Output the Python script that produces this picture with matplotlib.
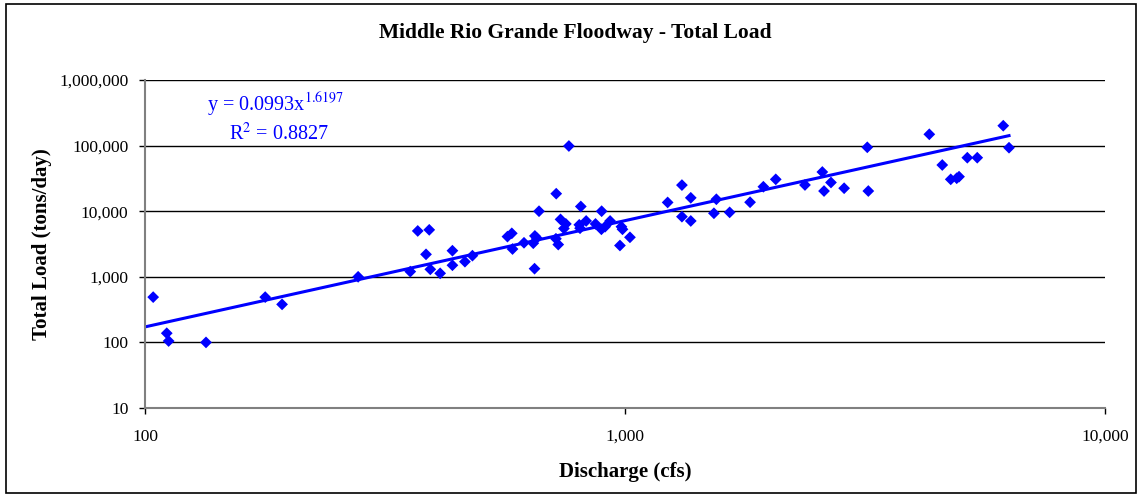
import matplotlib.pyplot as plt
from matplotlib.patches import Rectangle
from matplotlib.ticker import FixedLocator, FuncFormatter, NullLocator
import numpy as np

plt.rcParams['font.family'] = ['Liberation Serif', 'DejaVu Serif']
plt.rcParams['mathtext.fontset'] = 'stix'

# discharge (cfs) and total load (tons/day)
discharge = [104, 111, 112, 134, 178, 193, 278, 357, 370, 391, 385, 393, 412, 437, 437, 464, 481,
             569, 581, 583, 616, 649, 655, 644, 648, 662, 719, 718, 726, 734, 753, 746, 764, 809,
             803, 806, 830, 868, 894, 893, 909, 931, 983, 988, 1024, 976,
             1227, 1314, 1371, 1314, 1371, 1550, 1532, 1652, 1822, 1942, 2061, 2371, 2577, 2598,
             2686, 2861, 3213, 3197, 4305, 4581, 4771, 4910, 4965, 5166, 5418, 6138, 6310]
load = [490, 138, 105, 100, 490, 380, 1000, 1200, 5000, 5200, 2200, 1300, 1130, 2500, 1500, 1700, 2100,
        4100, 4600, 2650, 3300, 4200, 3900, 3250, 1330, 10000, 18500, 3800, 3100, 7500, 6400, 5450, 98600, 11800,
        6200, 5500, 7100, 6400, 10000, 5300, 5800, 7100, 5800, 5300, 4000, 3000,
        13600, 25000, 16000, 8250, 7100, 15200, 9300, 9600, 13700, 23600, 30600, 25100, 39600, 20300,
        27400, 22400, 20300, 94200, 148700, 50600, 30600, 31800, 33600, 65400, 65400, 201000, 92900]

# power trendline from the chart
coef_a = 0.0993
coef_b = 1.6197
r_squared = 0.8827

y_ticks = [10, 100, 1000, 10000, 100000, 1000000]
x_ticks = [100, 1000, 10000]

fig = plt.figure(figsize=(11.41, 4.97), dpi=100)
ax = fig.add_axes([145 / 1141, 1 - 408 / 497, 960 / 1141, 328 / 497])

ax.scatter(discharge, load, marker='D', s=36, color='#0000FF', edgecolors='none', zorder=3)

xs = np.logspace(np.log10(100), np.log10(max(discharge)), 200)
ax.plot(xs, coef_a * xs ** coef_b, color='#0000FF', linewidth=2.2, zorder=2)

ax.set_xscale('log')
ax.set_yscale('log')
ax.set_xlim(100, 10000)
ax.set_ylim(10, 1000000)

fmt = FuncFormatter(lambda v, p: f'{int(round(v)):,}')
ax.xaxis.set_major_locator(FixedLocator(x_ticks))
ax.yaxis.set_major_locator(FixedLocator(y_ticks))
ax.xaxis.set_minor_locator(NullLocator())
ax.yaxis.set_minor_locator(NullLocator())
ax.xaxis.set_major_formatter(fmt)
ax.yaxis.set_major_formatter(fmt)
ax.tick_params(axis='both', direction='out', length=4, width=1, color='black', labelsize=12.5)
ax.tick_params(axis='x', pad=11)
ax.tick_params(axis='y', pad=8)

ax.grid(axis='y', color='black', linewidth=1)
ax.set_axisbelow(True)
for side in ['top', 'right']:
    ax.spines[side].set_visible(False)
for side in ['left', 'bottom']:
    ax.spines[side].set_color('#808080')
    ax.spines[side].set_linewidth(1.5)

ax.set_xlabel('Discharge (cfs)', fontsize=15, fontweight='bold', labelpad=12)
ax.set_ylabel('Total Load (tons/day)', fontsize=15, fontweight='bold', labelpad=5)

fig.text(0.504, 1 - 33 / 497, 'Middle Rio Grande Floodway - Total Load', ha='center', va='center',
         fontsize=15.5, fontweight='bold')

ax.text(0.065, 0.925, r'y = 0.0993x$^{1.6197}$', transform=ax.transAxes, color='#0000FF',
        fontsize=14.5, ha='left', va='center')
ax.text(0.087, 0.835, r'R$^{2}$ = ' + f'{r_squared:.4f}', transform=ax.transAxes, color='#0000FF',
        fontsize=14.5, ha='left', va='center')

fig.patches.append(Rectangle((6 / 1141, 4 / 497), 1130 / 1141, 489 / 497, transform=fig.transFigure,
                             fill=False, edgecolor='black', linewidth=1.2))

fig.savefig('out.png', dpi=100)
